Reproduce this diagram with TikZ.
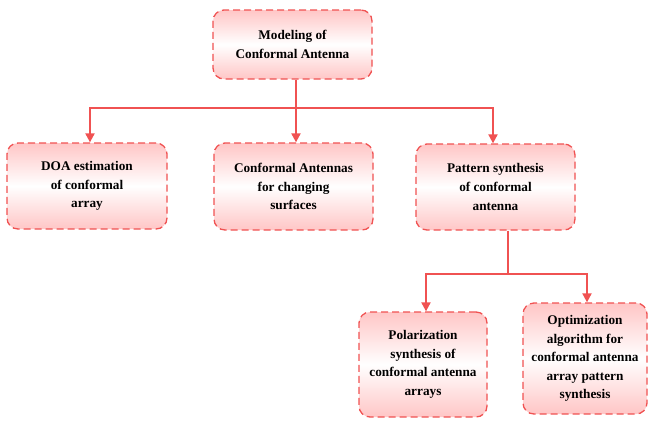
\documentclass[tikz,border=0pt]{standalone}
\usepackage{fontspec}
\setmainfont{Liberation Serif}
\usetikzlibrary{arrows.meta,calc}
\definecolor{lred}{RGB}{240,82,82}
\definecolor{lpink}{RGB}{255,198,198}
\begin{document}
\begin{tikzpicture}[x=1bp,y=-1bp,
  box/.style={draw=lred, line width=1.3bp, dash pattern=on 7bp off 4bp,
    rounded corners=11bp, top color=lpink, bottom color=lpink, middle color=white,
    align=center, font=\fontsize{13.3}{18.7}\selectfont\bfseries, inner sep=0pt},
  conn/.style={draw=lred, line width=2bp},
  arr/.style={conn, -{Triangle[length=9bp,width=9bp]}}]
\useasboundingbox (0,0) rectangle (649,420);
\node[box, minimum width=159bp, minimum height=69bp] (top) at (292.5,44.5) {Modeling of\\Conformal Antenna};
\node[box, minimum width=160bp, minimum height=86bp] (doa) at (87,186) {DOA estimation\\of conformal\\array};
\node[box, minimum width=159bp, minimum height=87bp] (conf) at (293.5,186.5) {Conformal Antennas\\for changing\\surfaces};
\node[box, minimum width=159bp, minimum height=86bp] (pat) at (495.5,187) {Pattern synthesis\\of conformal\\antenna};
\node[box, minimum width=128bp, minimum height=105bp] (pol) at (423,364.5) {Polarization\\synthesis of\\conformal antenna\\arrays};
\node[box, minimum width=124bp, minimum height=111bp] (opt) at (585,358.5) {Optimization\\algorithm for\\conformal antenna\\array pattern\\synthesis};
\coordinate (j1) at (296,108);
\coordinate (j2) at (508,274);
\draw[conn] (top.south -| j1) -- (j1);
\draw[arr] (j1) -| ([xshift=3bp]doa.north);
\draw[arr] (j1) -- (conf.north -| j1);
\draw[arr] (j1) -| ([xshift=-2.5bp]pat.north);
\draw[conn] (pat.south -| j2) -- (j2);
\draw[arr] (j2) -| ([xshift=3bp]pol.north);
\draw[arr] (j2) -| ([xshift=2bp]opt.north);
\end{tikzpicture}
\end{document}
